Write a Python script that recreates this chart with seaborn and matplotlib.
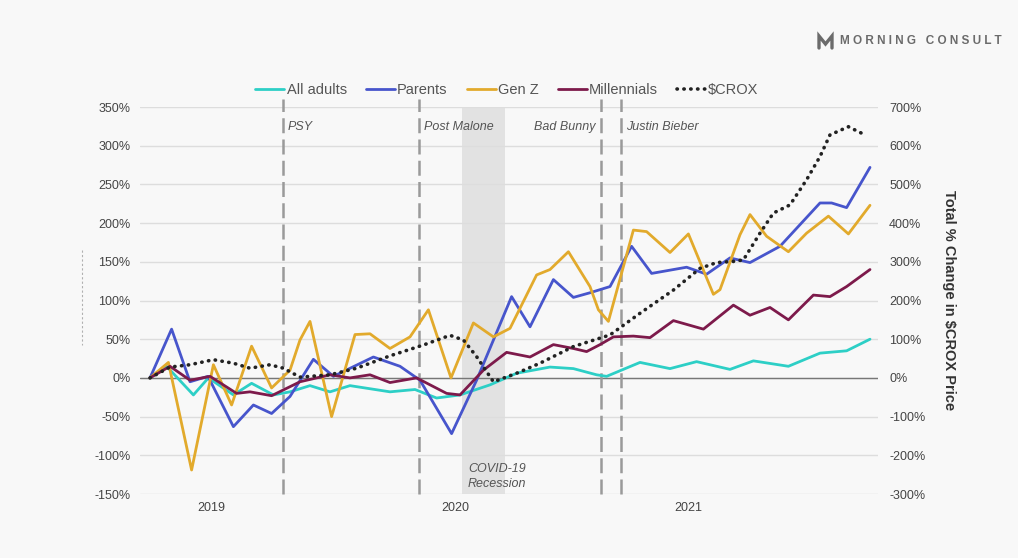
import pandas as pd
import matplotlib.pyplot as plt
import seaborn as sns
from matplotlib.lines import Line2D

# x = months since the first survey wave (Oct 2018), y = % change
adults_x = [0, 0.83, 2.17, 2.92, 4.17, 5.08, 6.17, 7.0, 8.0, 9.0, 10.0, 12.0, 13.25, 14.33, 15.5,
            17.0, 18.33, 20.0, 21.17, 22.33, 22.83, 24.5, 26.0, 27.33, 29.0, 30.17, 31.92, 33.5, 34.83, 36.0]
adults_y = [0, 15, -22, 0, -22, -7, -22, -18, -10, -18, -10, -18, -15, -26, -22,
            -9, 6, 14, 12, 4, 2, 20, 12, 21, 11, 22, 15, 32, 35, 50]

parents_x = [0, 1.08, 2.0, 2.9, 4.17, 5.17, 6.08, 7.0, 8.17, 9.17, 11.17, 12.5, 13.5, 15.08, 16.33,
             18.08, 19.0, 20.17, 21.17, 22.0, 23.0, 24.08, 25.08, 26.83, 27.83, 29.0, 30.0, 31.5,
             33.5, 34.08, 34.83, 36.0]
parents_y = [0, 63, -5, 2, -63, -35, -46, -24, 24, 2, 27, 15, -3, -72, -3,
             105, 66, 127, 104, 110, 118, 170, 135, 143, 134, 155, 149, 170,
             226, 226, 220, 272]

genz_x = [0, 0.92, 2.08, 3.17, 4.08, 5.08, 6.08, 7.0, 7.5, 8.0, 9.08, 10.25, 11.0, 12.0, 13.0, 13.92,
          15.05, 16.17, 17.17, 18.0, 19.33, 20.0, 20.92, 22.0, 22.42, 22.92, 24.17, 24.83, 26.0,
          26.92, 28.17, 28.5, 29.5, 30.0, 30.83, 31.92, 32.83, 33.92, 34.92, 36.0]
genz_y = [0, 20, -119, 17, -35, 41, -13, 10, 49, 73, -50, 56, 57, 38, 53, 88,
          0, 71, 53, 64, 133, 140, 163, 118, 88, 73, 191, 189, 162,
          186, 108, 114, 185, 211, 183, 163, 187, 209, 186, 223]

millennials_x = [0, 1.0, 2.0, 3.0, 4.33, 5.0, 6.08, 7.5, 9.0, 10.0, 11.0, 12.0, 13.33, 14.83, 15.5,
                 16.67, 17.83, 19.0, 20.17, 21.17, 21.83, 22.5, 23.17, 24.17, 25.0, 26.17, 27.67,
                 29.17, 30.0, 31.0, 31.92, 33.17, 34.0, 34.83, 36.0]
millennials_y = [0, 15, -3, 2, -20, -18, -23, -5, 4, 0, 4, -6, 0, -20, -22,
                 10, 33, 27, 43, 38, 34, 43, 53, 54, 52, 74, 63,
                 94, 81, 91, 75, 107, 105, 118, 140]

crox_x = [0, 1.0, 2.0, 3.17, 4.17, 5.0, 6.0, 6.67, 7.5, 9.0, 10.33, 12.0, 13.67, 15.0, 15.67, 16.33,
          17.17, 18.33, 19.5, 21.17, 22.33, 23.0, 24.5, 26.17, 27.5, 28.33, 29.17, 29.67, 30.5,
          31.17, 32.0, 32.83, 33.5, 34.0, 34.92, 35.75]
crox_y = [0, 28, 34, 47, 38, 25, 34, 25, 2, 8, 25, 57, 85, 110, 98, 55,
          -10, 12, 38, 81, 100, 111, 167, 227, 283, 298, 301, 305, 374,
          426, 447, 512, 572, 628, 649, 628]

groups = ['All adults', 'Parents', 'Gen Z', 'Millennials']
colors = ['#2dcfc6', '#4755cc', '#e2aa2c', '#7d1a4b']

event_names = ['PSY', 'Post Malone', 'Bad Bunny', 'Justin Bieber']
event_months = [6.65, 13.45, 22.55, 23.55]
years = ['2019', '2020', '2021']
year_months = [3.05, 15.25, 26.9]

BG = '#f8f8f8'
TXT = '#444444'

sns.set_style('white', {'axes.facecolor': BG, 'figure.facecolor': BG})
plt.rcParams['font.family'] = ['Liberation Sans', 'DejaVu Sans']

frames = []
for name, xs, ys in zip(groups, [adults_x, parents_x, genz_x, millennials_x],
                        [adults_y, parents_y, genz_y, millennials_y]):
    frames.append(pd.DataFrame({'month': xs, 'change': ys, 'group': name}))
df = pd.concat(frames, ignore_index=True)
crox = pd.DataFrame({'month': crox_x, 'change': crox_y})

fig = plt.figure(figsize=(10.18, 5.58), dpi=100, facecolor=BG)
ax = fig.add_axes([140 / 1018, 1 - 494 / 558, (878 - 140) / 1018, (494 - 107) / 558])

# recession band + gridlines
ax.axvspan(15.6, 17.75, color='#e2e2e2', lw=0, zorder=0)
ax.grid(axis='y', color='#dddddd', lw=1)
ax.set_axisbelow(True)
ax.axhline(0, color='#777777', lw=1, zorder=1)

sns.lineplot(data=df, x='month', y='change', hue='group', hue_order=groups,
             palette=colors, estimator=None, sort=False, lw=2, legend=False, ax=ax)

for m in event_months:
    ax.axvline(m, ymin=0, ymax=1.02, color='#9a9a9a', lw=1.8, ls=(0, (6, 2.5)),
               clip_on=False, zorder=1)

ax.text(6.9, 324, 'PSY', style='italic', color='#555555', fontsize=9, va='center')
ax.text(13.7, 324, 'Post Malone', style='italic', color='#555555', fontsize=9, va='center')
ax.text(22.3, 324, 'Bad Bunny', style='italic', color='#555555', fontsize=9, va='center', ha='right')
ax.text(23.8, 324, 'Justin Bieber', style='italic', color='#555555', fontsize=9, va='center')
ax.text(17.35, -127, 'COVID-19\nRecession', style='italic', color='#555555', fontsize=9,
        va='center', ha='center', linespacing=1.3)

ax.set_xlim(-0.5, 36.4)
ax.set_ylim(-150, 350)
ax.set_yticks(range(-150, 351, 50))
ax.set_yticklabels([f'{v}%' for v in range(-150, 351, 50)])
ax.set_xticks(year_months)
ax.set_xticklabels(years)
ax.tick_params(length=0, labelsize=9, colors=TXT)
ax.tick_params(axis='y', pad=7)
ax.tick_params(axis='x', pad=6)
ax.set_xlabel('')
ax.set_ylabel('')

ax2 = ax.twinx()
sns.lineplot(data=crox, x='month', y='change', color='#222222', lw=2.6,
             ls=(0, (0.1, 1.8)), dash_capstyle='round', estimator=None, sort=False, ax=ax2)
ax2.set_ylim(-300, 700)
ax2.set_yticks(range(-300, 701, 100))
ax2.set_yticklabels([f'{v}%' for v in range(-300, 701, 100)])
ax2.tick_params(length=0, labelsize=9, colors=TXT, pad=8)
ax2.set_ylabel('Total % Change in $CROX Price', rotation=270, fontsize=10.5,
               fontweight='bold', color='#333333', labelpad=22)
ax2.set_xlabel('')

for a in (ax, ax2):
    for s in a.spines.values():
        s.set_visible(False)

handles = [Line2D([], [], color=c, lw=2) for c in colors]
handles.append(Line2D([], [], color='#222222', lw=2.6, ls=(0, (0.1, 1.8)), dash_capstyle='round'))
fig.legend(handles, groups + ['$CROX'], loc='center', bbox_to_anchor=(0.498, 0.839), ncol=5,
           frameon=False, handlelength=2, handletextpad=0.15, columnspacing=1.3,
           fontsize=10.5, labelcolor='#555555')

# brand mark
logo = '#6b6b6b'
fig.add_artist(Line2D([819 / 1018, 819 / 1018, 825.5 / 1018, 832 / 1018, 832 / 1018],
                      [1 - 48 / 558, 1 - 36 / 558, 1 - 44 / 558, 1 - 36 / 558, 1 - 48 / 558],
                      transform=fig.transFigure, color=logo, lw=2.4, solid_joinstyle='miter'))
fig.text(840 / 1018, 1 - 41 / 558, 'M O R N I N G   C O N S U L T', fontsize=8.5,
         fontweight='bold', color=logo, va='center', ha='left')

# faint leftover axis mark on the left edge
fig.add_artist(Line2D([82 / 1018, 82 / 1018], [1 - 250 / 558, 1 - 345 / 558],
                      transform=fig.transFigure, color='#b0b0b0', lw=0.8, ls=(0, (2, 2))))

fig.savefig('out.png', dpi=100, facecolor=BG)
